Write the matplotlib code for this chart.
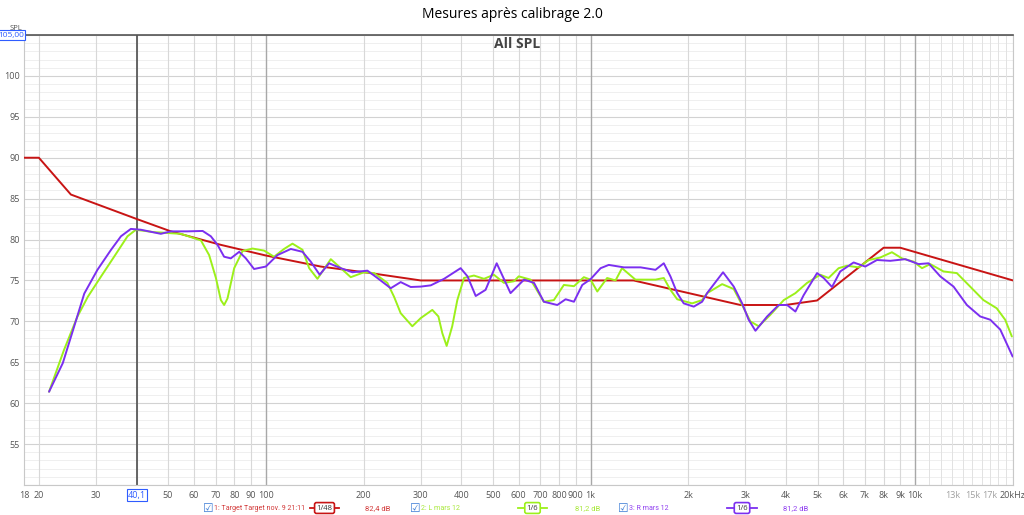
import matplotlib
matplotlib.use("Agg")
import matplotlib.pyplot as plt
from matplotlib.lines import Line2D

plt.rcParams['font.family'] = ['Open Sans', 'DejaVu Sans']

# Target curve
target_f = [18, 20, 25.1, 40.1, 51.0, 72.7, 100, 147.6, 210, 300, 1357, 2894, 3981, 4984, 7991, 8990, 20000]
target_db = [90, 90, 85.5, 82.5, 81.0, 79.35, 78.05, 76.7, 75.9, 75.0, 75.0, 72.0, 72.0, 72.55, 79.0, 79.0, 75.0]

# L mars 12 (green)
left_f = [21.5, 23.9, 26.3, 28.3, 31.1, 34.1, 37.5, 39.8, 45.3, 54.7, 63.1, 66.9, 70.2, 72.7, 74.4,
          76.2, 79.9, 84.8, 91.0, 98.8, 106, 113.8, 120.8, 129.7, 136, 144.2, 158.5, 170.2, 182.6,
          200.6, 215.4, 236.8, 248.3, 260.2, 282.6, 300, 325.6, 340, 349.6, 360.5, 375, 388.8, 407.6,
          437.4, 469.8, 503.9, 541, 580.7, 601, 653.6, 718, 771, 827.6, 889, 953.6, 1000, 1049, 1125,
          1194, 1250, 1375, 1585, 1681, 1762, 1849, 2055, 2206, 2286, 2543, 2761, 2930, 3106, 3296,
          3579, 3936, 4275, 4643, 5101, 5408, 5808, 6165, 6693, 7194, 7798, 8475, 9099, 9883, 10490,
          11120, 12220, 13430, 14760, 16220, 17820, 18920, 19840]
left_db = [61.4, 66.5, 70.6, 73.0, 75.5, 77.9, 80.4, 81.2, 80.9, 80.7, 79.9, 78.1, 75.3, 72.6, 72.0,
           72.8, 76.5, 78.6, 78.9, 78.65, 77.9, 78.85, 79.5, 78.75, 76.5, 75.2, 77.6, 76.5, 75.4,
           76.0, 75.9, 74.7, 73.0, 71.0, 69.4, 70.4, 71.4, 70.6, 68.55, 67.0, 69.4, 72.6, 75.3,
           75.6, 75.2, 75.7, 74.7, 74.9, 75.5, 75.1, 72.4, 72.6, 74.45, 74.3, 75.4, 75.1, 73.65, 75.3,
           75.0, 76.5, 75.1, 75.1, 75.3, 73.85, 72.7, 72.2, 72.6, 73.45, 74.55, 73.95, 72.0, 70.0, 69.4,
           70.8, 72.6, 73.45, 74.7, 75.7, 75.3, 76.5, 76.8, 76.6, 77.5, 77.8, 78.45, 77.7, 77.3, 76.5,
           77.0, 76.1, 75.9, 74.25, 72.6, 71.6, 70.2, 68.15]

# R mars 12 (purple)
right_f = [21.5, 23.7, 25.7, 27.6, 30.3, 33.3, 35.8, 38.4, 41.2, 47.5, 51.0, 57.4, 63.9, 67.7, 71.0,
           74.4, 78.0, 82.8, 86.8, 92.0, 100, 108.6, 119.4, 129.7, 137.5, 146.5, 156.6, 170.2, 184.8,
           205.5, 220.6, 242.5, 260.2, 279.4, 300, 322, 354, 398, 418, 443, 475, 514, 567, 624, 670,
           718, 790, 838, 889, 943, 1000, 1074, 1138, 1267, 1426, 1585, 1681, 1762, 1849, 1936, 2079,
           2206, 2290, 2559, 2761, 2930, 3069, 3220, 3498, 3797, 4030, 4275, 4532, 4985, 5224, 5542,
           5875, 6460, 7015, 7621, 8375, 9316, 10240, 10990, 11940, 13120, 14420, 15850, 17020, 18270,
           19950]
right_db = [61.4, 64.9, 69.4, 73.4, 76.3, 78.7, 80.4, 81.3, 81.2, 80.7, 81.0, 81.0, 81.05, 80.4, 79.35,
            77.9, 77.7, 78.5, 77.7, 76.4, 76.7, 78.1, 78.85, 78.5, 77.3, 75.7, 77.1, 76.5, 76.0,
            76.2, 75.3, 74.05, 74.8, 74.2, 74.25, 74.4, 75.2, 76.5, 75.5, 73.1, 73.85, 77.1, 73.45, 75.1, 74.7,
            72.4, 72.0, 72.7, 72.4, 74.45, 75.15, 76.5, 76.9, 76.6, 76.6, 76.3, 77.1, 75.5, 73.45, 72.2, 71.8,
            72.4, 73.5, 76.0, 74.25, 72.2, 70.2, 68.85, 70.6, 72.0, 72.0, 71.2, 73.2, 75.9, 75.3, 74.2,
            76.1, 77.2, 76.7, 77.5, 77.4, 77.6, 77.0, 77.1, 75.5, 74.25, 72.0, 70.6, 70.2, 69.0,
            65.7]

xtick_vals = [18, 20, 30, 50, 60, 70, 80, 90, 100, 200, 300, 400, 500, 600, 700, 800, 900,
              1000, 2000, 3000, 4000, 5000, 6000, 7000, 8000, 9000, 10000, 13000, 15000, 17000, 20000]
xtick_text = ['18', '20', '30', '50', '60', '70', '80', '90', '100', '200', '300', '400', '500', '600',
              '700', '800', '900', '1k', '2k', '3k', '4k', '5k', '6k', '7k', '8k', '9k', '10k',
              '13k', '15k', '17k', '20kHz']
ytick_vals = [55, 60, 65, 70, 75, 80, 85, 90, 95, 100]
cursor_f = 40.1

RED = '#c81414'
GREEN = '#9cf01a'
PURPLE = '#7b2ff0'
BLUE = '#2f5cff'

fig = plt.figure(figsize=(10.24, 5.15), dpi=100)
ax = fig.add_axes([24 / 1024, 1 - 485 / 515, 989 / 1024, 450 / 515])
ax.set_xscale('log')
ax.set_xlim(18, 20000)
ax.set_ylim(50, 105)

# grid
for d in range(50, 106):
    if d % 5 == 0:
        ax.axhline(d, color='#d2d2d2', lw=0.8, zorder=0)
    else:
        ax.axhline(d, color='#ededed', lw=0.6, zorder=0)
for dec in [10, 100, 1000, 10000]:
    for m in range(1, 10):
        f = dec * m
        if f < 18 or f > 20000:
            continue
        if m == 1:
            ax.axvline(f, color='#a8a8a8', lw=1.0, zorder=0)
        else:
            ax.axvline(f, color='#d8d8d8', lw=0.8, zorder=0)
for f in range(11000, 20000, 1000):
    ax.axvline(f, color='#e2e2e2', lw=0.7, zorder=0)
ax.axvline(cursor_f, color='#5a5a5a', lw=1.3, zorder=1)

kw = dict(lw=1.4, solid_joinstyle='round', solid_capstyle='round')
ax.plot(target_f, target_db, color=RED, zorder=3, **kw)
ax.plot(left_f, left_db, color=GREEN, zorder=4, **kw)
ax.plot(right_f, right_db, color=PURPLE, zorder=5, **kw)

ax.set_xticks(xtick_vals)
ax.set_xticklabels(xtick_text)
ax.minorticks_off()
ax.set_yticks(ytick_vals)
ax.set_yticklabels([str(v) for v in ytick_vals])
ax.tick_params(axis='both', length=0, labelsize=6.5, labelcolor='#555555')
ax.tick_params(axis='x', pad=4)
ax.tick_params(axis='y', pad=3)
for lab in ax.get_xticklabels():
    if lab.get_text() in ('13k', '15k', '17k'):
        lab.set_color('#a0a0a0')

for s in ['left', 'right', 'bottom']:
    ax.spines[s].set_color('#c8c8c8')
    ax.spines[s].set_linewidth(0.8)
ax.spines['top'].set_color('#555555')
ax.spines['top'].set_linewidth(1.2)

# boxed cursor labels
ax.annotate('40,1', xy=(cursor_f, 50), xytext=(0, -4), textcoords='offset points',
            ha='center', va='top', fontsize=6.5, color=BLUE,
            bbox=dict(boxstyle='square,pad=0.15', fc='white', ec=BLUE, lw=0.8))
ax.text(18, 105, '105,00', ha='right', va='center', fontsize=6, color=BLUE,
        bbox=dict(boxstyle='square,pad=0.15', fc='white', ec=BLUE, lw=0.8))
fig.text(16 / 1024, 1 - 28 / 515, 'SPL', ha='center', va='center', fontsize=5.5, color='#555555')

fig.text(0.5, 1 - 14 / 515, 'Mesures après calibrage 2.0', ha='center', va='center', fontsize=10)
fig.text(517 / 1024, 1 - 44 / 515, 'All SPL', ha='center', va='center', fontsize=10,
         fontweight='bold', color='#444444')

# legend row
ly = 1 - 508 / 515


def px(x):
    return x / 1024


legend_items = [
    (208, '1: Target Target nov. 9 21:11', RED, '#d23a3a', 310, 339, '1/48', 365, '82,4 dB'),
    (415, '2: L mars 12', GREEN, '#a8e83a', 518, 547, '1/6', 575, '81,2 dB'),
    (623, '3: R mars 12', PURPLE, '#9040f0', 727, 757, '1/6', 783, '81,2 dB'),
]
for cx, name, lc, tc, l0, l1, box, dx, dtxt in legend_items:
    fig.text(px(cx), ly, '\u2611', ha='center', va='center', fontsize=8.5, color='#3a7bd5',
             family='DejaVu Sans')
    fig.text(px(cx + 6), ly, name, ha='left', va='center', fontsize=5.1, color=tc,
             family='Roboto')
    fig.add_artist(Line2D([px(l0), px(l1)], [ly, ly], color=lc, lw=1.3, transform=fig.transFigure))
    fig.text(px((l0 + l1) / 2), ly, box, ha='center', va='center', fontsize=5.5, color='#333333',
             bbox=dict(boxstyle='round,pad=0.25', fc='white', ec=lc, lw=1.2))
    fig.text(px(dx), ly, dtxt, ha='left', va='center', fontsize=5.5, color=tc, family='Roboto')

fig.savefig('out.png', dpi=100)
